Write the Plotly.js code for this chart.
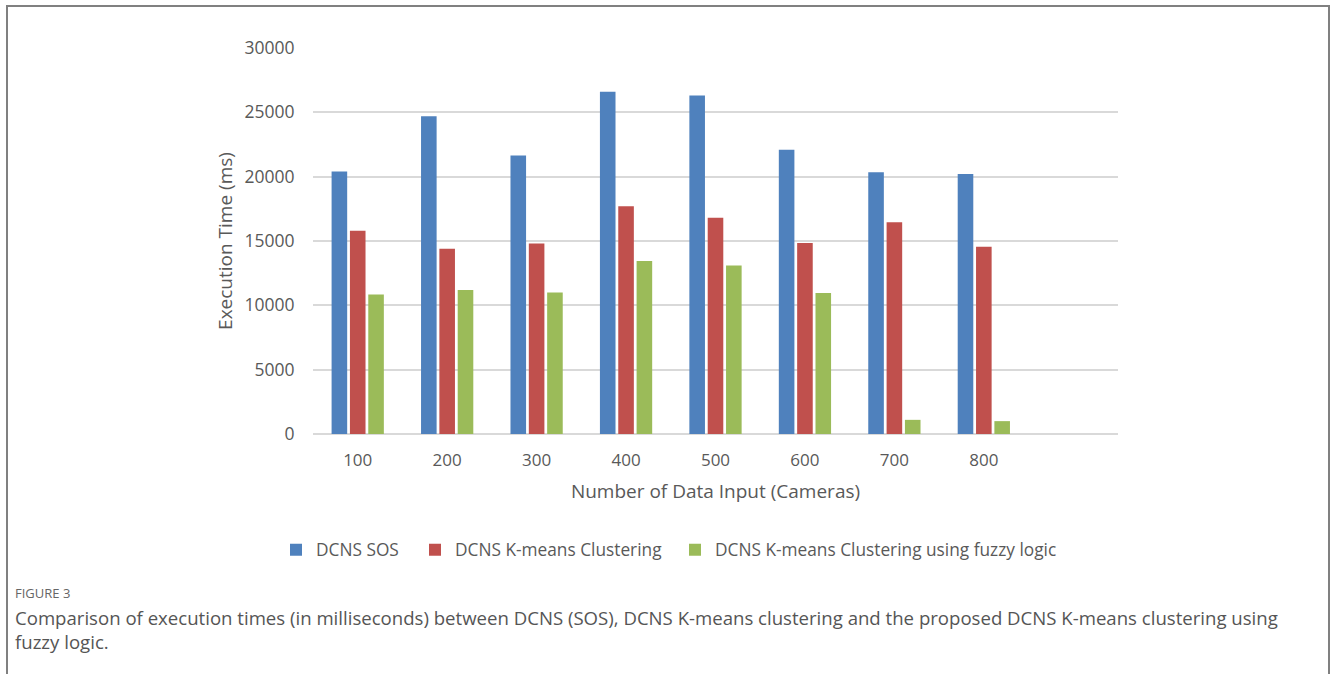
<!DOCTYPE html>
<html>
<head>
<meta charset="utf-8">
<script src="https://cdn.plot.ly/plotly-3.0.1.min.js"></script>
<style>
html,body{margin:0;padding:0;background:#fff;}
#chart{width:1330px;height:675px;}
</style>
</head>
<body>
<div id="chart"></div>
<script>
// Data
const categories = [100, 200, 300, 400, 500, 600, 700, 800];
const tickLabels = ["100", "200", "300", "400", "500", "600", "700", "800"];
const seriesNames = ["DCNS SOS", "DCNS K-means Clustering", "DCNS K-means Clustering using fuzzy logic"];
const sosValues = [20400, 24700, 21650, 26600, 26300, 22100, 20350, 20200];
const kmeansValues = [15800, 14400, 14800, 17700, 16800, 14850, 16450, 14550];
const fuzzyValues = [10850, 11200, 11000, 13450, 13100, 10950, 1100, 1000];
const yTicks = [0, 5000, 10000, 15000, 20000, 25000, 30000];

const colors = ["#4F81BD", "#C0504D", "#9BBB59"];
const font = "Open Sans, Noto Sans, sans-serif";
const gray = "#595959";
const legendIds = ["legend", "legend2", "legend3"];

const traces = [sosValues, kmeansValues, fuzzyValues].map((vals, i) => ({
  type: "bar",
  name: seriesNames[i],
  legend: legendIds[i],
  x: categories,
  y: vals,
  marker: {color: colors[i], line: {width: 0}},
  hoverinfo: "x+y+name"
}));

// plot area: x 313..1118, y 48..434
const L = 313, R = 1118, T = 48, B = 434;
const px = v => (v - L) / (R - L);
const py = v => (B - v) / (B - T);

const legendStarts = [291, 430, 690];
function mkLegend(startPx) {
  return {
    orientation: "h",
    x: px(startPx - 15), xanchor: "left",
    y: py(550), yanchor: "middle",
    font: {family: font, size: 17.3, color: gray},
    itemwidth: 30,
    itemclick: false,
    bgcolor: "rgba(0,0,0,0)"
  };
}

const layout = {
  width: 1330,
  height: 675,
  margin: {l: L, r: 1330 - R, t: T, b: 675 - B, pad: 0},
  paper_bgcolor: "#ffffff",
  plot_bgcolor: "#ffffff",
  font: {family: font, color: gray, size: 17},
  barmode: "group",
  bargap: 0.385,
  bargroupgap: 0.15,
  showlegend: true,
  legend: mkLegend(legendStarts[0]),
  legend2: mkLegend(legendStarts[1]),
  legend3: mkLegend(legendStarts[2]),
  xaxis: {
    type: "linear",
    range: [50, 950],
    tickvals: categories,
    ticktext: tickLabels,
    showgrid: false,
    zeroline: false,
    showline: false,
    ticks: "outside",
    ticklen: 11,
    tickcolor: "rgba(0,0,0,0)",
    tickfont: {family: font, size: 17, color: gray},
    title: {text: "Number of Data Input (Cameras)", font: {family: font, size: 19, color: gray}, standoff: 14},
    fixedrange: true
  },
  yaxis: {
    range: [0, 30000],
    tickvals: yTicks,
    ticktext: yTicks.map(String),
    showgrid: true,
    gridcolor: "#D9D9D9",
    gridwidth: 1.5,
    zeroline: true,
    zerolinecolor: "#D9D9D9",
    zerolinewidth: 1.5,
    showline: false,
    ticks: "outside",
    ticklen: 14,
    tickcolor: "rgba(0,0,0,0)",
    tickfont: {family: font, size: 17.5, color: gray},
    title: {text: "Execution Time (ms)", font: {family: font, size: 19, color: gray}, standoff: 6},
    fixedrange: true
  },
  shapes: [{
    type: "path",
    xref: "paper", yref: "paper",
    path: `M ${px(7)} ${py(674)} L ${px(7)} ${py(6)} L ${px(1329)} ${py(6)} L ${px(1329)} ${py(674)}`,
    line: {color: "#808080", width: 2}
  }],
  annotations: [
    {
      xref: "paper", yref: "paper",
      x: px(13), y: py(593), xanchor: "left", yanchor: "middle",
      text: "FIGURE 3", showarrow: false,
      font: {family: font, size: 13, color: "#666666"}
    },
    {
      xref: "paper", yref: "paper",
      x: px(13), y: py(629), xanchor: "left", yanchor: "middle",
      align: "left",
      text: "Comparison of execution times (in milliseconds) between DCNS (SOS), DCNS K-means clustering and the proposed DCNS K-means clustering using<br>fuzzy logic.",
      showarrow: false,
      font: {family: font, size: 18.6, color: "#555555"}
    }
  ]
};

Plotly.newPlot("chart", traces, layout, {displayModeBar: false, responsive: false});
</script>
</body>
</html>
